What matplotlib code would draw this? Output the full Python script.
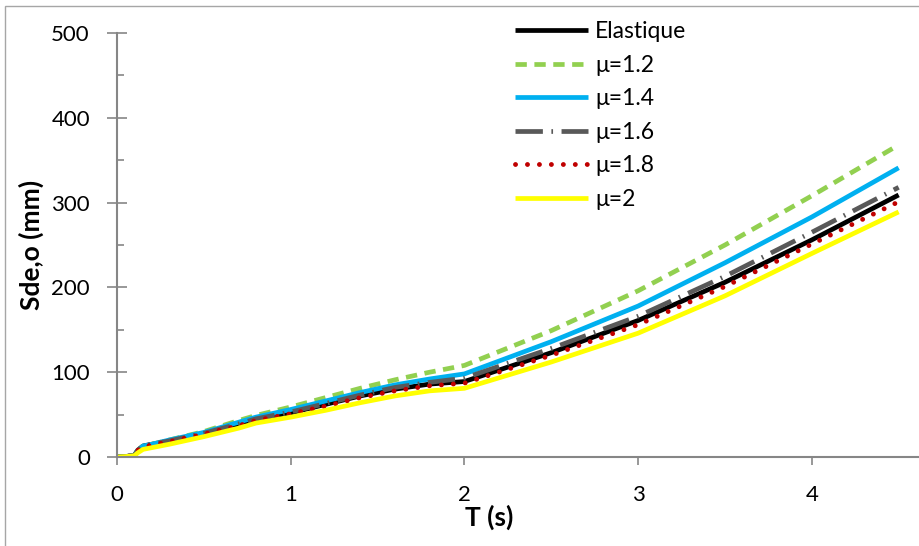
import numpy as np
import matplotlib
matplotlib.use('Agg')
from matplotlib import pyplot as plt
from matplotlib.ticker import MultipleLocator
from matplotlib.patches import Rectangle

plt.rc('font', family='Lato', size=16)

T = [0, 0.05, 0.1, 0.12, 0.15, 0.2, 0.3, 0.5, 0.7, 0.8, 1.0, 1.2, 1.4, 1.6, 1.8, 2.0, 2.5, 3.0, 3.5, 4.0, 4.5]
elastique = [0, 0.5, 2, 8, 13, 15, 19, 28, 38, 44, 52, 62, 72, 80, 86, 89, 123, 161, 206, 256, 309]
mu12 = [0, 0.5, 2, 8, 13, 15, 20, 30, 43, 49, 59, 70, 81, 91, 100, 108, 149, 196, 250, 308, 368]
mu14 = [0, 0.5, 2, 8, 13, 15, 20, 29, 41, 47, 56, 66, 76, 85, 92, 98, 136, 178, 229, 283, 341]
mu16 = [0, 0.5, 2, 8, 13, 15, 19, 28, 39, 45, 53, 63, 73, 82, 88, 93, 128, 166, 213, 265, 318]
mu18 = [0, 0.5, 2, 8, 12, 14, 18, 27, 37, 43, 51, 60, 70, 78, 84, 87, 120, 156, 201, 251, 301]
mu20 = [0, 0.5, 1.5, 5, 9, 11, 15, 24, 34, 40, 47, 55, 64, 72, 78, 81, 112, 146, 190, 240, 289]

fig = plt.figure(figsize=(9.19, 5.46), dpi=100)
# grey frame of the chart area
fig.add_artist(Rectangle((5/919, -0.05), 1.2, 1 - 6/546 + 0.05, transform=fig.transFigure,
                         fill=False, edgecolor='#A6A6A6', lw=1))

ax = fig.add_axes([117/919, 1 - 457/546, 1 - 117/919, (457 - 33)/546])

ax.plot(T, elastique, color='black', lw=3.4, solid_capstyle='butt', label='Elastique')
ax.plot(T, mu12, color='#92D050', lw=3.4, linestyle=(0, (2.4, 1.6)), label='μ=1.2')
ax.plot(T, mu14, color='#00B0F0', lw=3.4, solid_capstyle='butt', label='μ=1.4')
ax.plot(T, mu16, color='#595959', lw=3.4, linestyle=(0, (5.8, 1.8, 0.35, 1.8)), label='μ=1.6')
ax.plot(T, mu18, color='#C00000', lw=3.5, linestyle=(0, (0.01, 2.45)), dash_capstyle='round', label='μ=1.8')
ax.plot(T, mu20, color='#FFFF00', lw=3.4, solid_capstyle='butt', label='μ=2')

ax.set_xlim(0, (919 - 117)/173.7)
ax.set_ylim(0, 500)
ax.set_xticks([0, 1, 2, 3, 4])
ax.set_yticks([0, 100, 200, 300, 400, 500])
ax.yaxis.set_minor_locator(MultipleLocator(50))

for s in ['top', 'right']:
    ax.spines[s].set_visible(False)
for s in ['left', 'bottom']:
    ax.spines[s].set_color('#868686')
    ax.spines[s].set_linewidth(1.5)

ax.tick_params(axis='y', which='major', direction='inout', length=15, width=1.2, color='#868686', pad=12)
ax.tick_params(axis='y', which='minor', direction='in', length=5, width=1.2, color='#868686')
ax.tick_params(axis='x', which='major', direction='out', length=6, width=1.2, color='#868686', pad=14)

ax.set_xlabel('T (s)', fontweight='bold', fontsize=19)
ax.set_ylabel('Sde,o (mm)', fontweight='bold', fontsize=19)
ax.xaxis.set_label_coords(0.464, -0.112)
ax.yaxis.set_label_coords(-0.091, 0.5)

ax.legend(loc='upper left', bbox_to_anchor=(515/919, 1 - 21/546), bbox_transform=fig.transFigure,
          frameon=False, handlelength=3.2, handletextpad=0.3, labelspacing=0.55,
          borderaxespad=0, borderpad=0, fontsize=16.5)

fig.savefig('out.png', dpi=100)
